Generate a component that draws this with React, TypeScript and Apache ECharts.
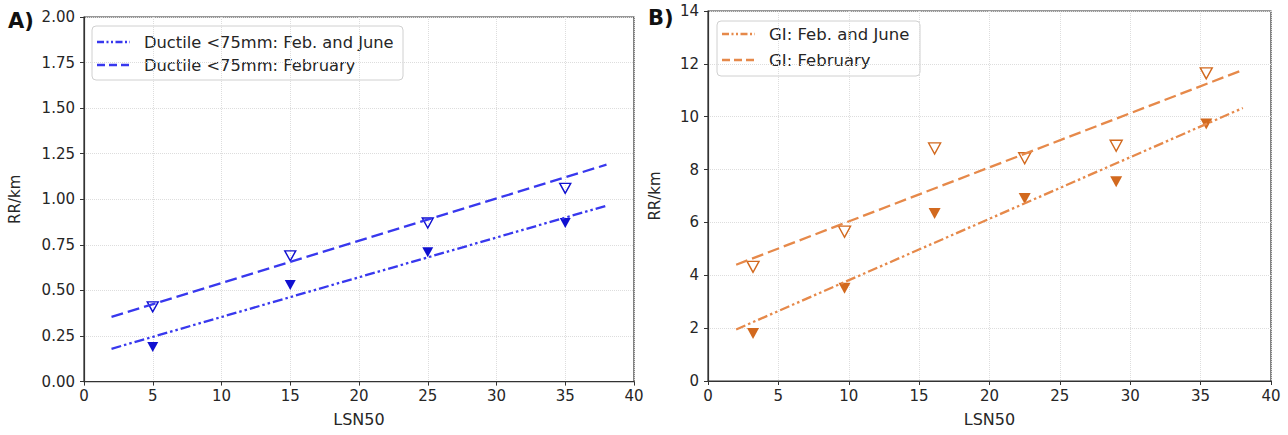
import React, { useEffect, useRef } from "react";
import * as echarts from "echarts";

// ---- Data ----
const fitX = [2, 38];

// Panel A: Ductile <75mm
const lsnA = [5, 15, 25, 35];
const ductileFebJune = [0.19, 0.53, 0.71, 0.87];
const ductileFeb = [0.41, 0.69, 0.87, 1.06];
const ductileFitFebJune = [0.18, 0.965];
const ductileFitFeb = [0.355, 1.19];

// Panel B: GI
const lsnB = [3.2, 9.7, 16.1, 22.5, 29.0, 35.4];
const giFebJune = [1.8, 3.51, 6.34, 6.91, 7.54, 9.72];
const giFeb = [4.32, 5.65, 8.8, 8.43, 8.9, 11.64];
const giFitFebJune = [1.95, 10.33];
const giFitFeb = [4.4, 11.77];

const legendA = ["Ductile <75mm: Feb. and June", "Ductile <75mm: February"];
const legendB = ["GI: Feb. and June", "GI: February"];

const BLUE_M = "#1010d0";
const BLUE_L = "#3838ee";
const ORANGE_M = "#d2691e";
const ORANGE_L = "#e6894a";
const DASH = [12, 5];
const DASHDOTDOT = [10, 3, 2.5, 3, 2.5, 3];
const FONT = "DejaVu Sans";
const TXT = "#262626";

const pairs = (xs: number[], ys: number[]) => xs.map((x, i) => [x, ys[i]]);

function axisCommon() {
  return {
    axisLine: { show: true, onZero: false, lineStyle: { color: "#333", width: 1.2 } },
    axisTick: { show: true, inside: false, length: 4, lineStyle: { color: "#333" } },
    splitLine: { show: true, lineStyle: { color: "#dddddd", type: "dotted", width: 1 } },
    axisLabel: { color: TXT, fontSize: 15, fontFamily: FONT },
    nameTextStyle: { color: TXT, fontSize: 15, fontFamily: FONT },
  };
}

function legendGroup(x: number, y: number, w: number, h: number, rowY: number[], texts: string[], color: string, fs: number) {
  const children: any[] = [
    {
      type: "rect",
      shape: { x, y, width: w, height: h, r: 4 },
      style: { fill: "rgba(255,255,255,0.85)", stroke: "#d0d0d0", lineWidth: 1 },
    },
  ];
  const dashes = [DASHDOTDOT, DASH];
  texts.forEach((t, i) => {
    children.push({
      type: "line",
      shape: { x1: x + 5, y1: rowY[i], x2: x + 38, y2: rowY[i] },
      style: { stroke: color, lineWidth: 2.3, lineDash: i === 0 ? [7, 2.5, 2, 2.5, 2, 2.5] : [8, 4] },
    });
    children.push({
      type: "text",
      x: x + 52,
      y: rowY[i],
      style: { text: t, fill: TXT, fontSize: fs, fontFamily: FONT, verticalAlign: "middle", align: "left" },
    });
  });
  return { type: "group", children };
}

export default function App() {
  const ref = useRef<HTMLDivElement>(null);
  useEffect(() => {
    if (!ref.current) return;
    const chart = echarts.init(ref.current, null, { renderer: "svg" });
    const c = axisCommon();
    const option: any = {
      animation: false,
      backgroundColor: "#fff",
      grid: [
        { left: 84, top: 17, width: 550, height: 364.6, show: true, borderColor: "#333", borderWidth: 1.2, containLabel: false },
        { left: 708, top: 11, width: 563, height: 370, show: true, borderColor: "#333", borderWidth: 1.2, containLabel: false },
      ],
      xAxis: [
        {
          ...c, type: "value", gridIndex: 0, min: 0, max: 40, interval: 5,
          name: "LSN50", nameLocation: "middle", nameGap: 30,
          nameTextStyle: { ...c.nameTextStyle, fontSize: 16 },
          axisLabel: { ...c.axisLabel, margin: 7 },
        },
        {
          ...c, type: "value", gridIndex: 1, min: 0, max: 40, interval: 5,
          name: "LSN50", nameLocation: "middle", nameGap: 30,
          nameTextStyle: { ...c.nameTextStyle, fontSize: 16 },
          axisLabel: { ...c.axisLabel, margin: 7 },
        },
      ],
      yAxis: [
        {
          ...c, type: "value", gridIndex: 0, min: 0, max: 2, interval: 0.25,
          name: "RR/km", nameLocation: "middle", nameGap: 62,
          axisLabel: { ...c.axisLabel, margin: 9, formatter: (v: number) => v.toFixed(2) },
        },
        {
          ...c, type: "value", gridIndex: 1, min: 0, max: 14, interval: 2,
          name: "RR/km", nameLocation: "middle", nameGap: 46,
          axisLabel: { ...c.axisLabel, margin: 9 },
        },
      ],
      series: [
        {
          type: "line", xAxisIndex: 0, yAxisIndex: 0, symbol: "none",
          data: pairs(fitX, ductileFitFebJune),
          lineStyle: { color: BLUE_L, width: 2.3, type: DASHDOTDOT },
        },
        {
          type: "line", xAxisIndex: 0, yAxisIndex: 0, symbol: "none",
          data: pairs(fitX, ductileFitFeb),
          lineStyle: { color: BLUE_L, width: 2.3, type: DASH },
        },
        {
          type: "scatter", xAxisIndex: 0, yAxisIndex: 0, symbol: "triangle", symbolRotate: 180,
          symbolSize: [11, 10], data: pairs(lsnA, ductileFebJune),
          itemStyle: { color: BLUE_M, opacity: 1 },
        },
        {
          type: "scatter", xAxisIndex: 0, yAxisIndex: 0, symbol: "triangle", symbolRotate: 180,
          symbolSize: [11, 10], data: pairs(lsnA, ductileFeb),
          itemStyle: { color: "rgba(255,255,255,0)", borderColor: BLUE_M, borderWidth: 1.4, opacity: 1 },
        },
        {
          type: "line", xAxisIndex: 1, yAxisIndex: 1, symbol: "none",
          data: pairs(fitX, giFitFebJune),
          lineStyle: { color: ORANGE_L, width: 2.3, type: DASHDOTDOT },
        },
        {
          type: "line", xAxisIndex: 1, yAxisIndex: 1, symbol: "none",
          data: pairs(fitX, giFitFeb),
          lineStyle: { color: ORANGE_L, width: 2.3, type: DASH },
        },
        {
          type: "scatter", xAxisIndex: 1, yAxisIndex: 1, symbol: "triangle", symbolRotate: 180,
          symbolSize: [12, 11], data: pairs(lsnB, giFebJune),
          itemStyle: { color: ORANGE_M, opacity: 1 },
        },
        {
          type: "scatter", xAxisIndex: 1, yAxisIndex: 1, symbol: "triangle", symbolRotate: 180,
          symbolSize: [12, 11], data: pairs(lsnB, giFeb),
          itemStyle: { color: "rgba(255,255,255,0)", borderColor: ORANGE_M, borderWidth: 1.4, opacity: 1 },
        },
      ],
      graphic: [
        legendGroup(92, 26, 311, 54, [42, 65], legendA, BLUE_L, 16.3),
        legendGroup(717, 21, 203, 55, [34, 60], legendB, ORANGE_L, 16.5),
        {
          type: "text", x: 8, y: 21,
          style: { text: "A)", fill: "#111", fontSize: 21, fontWeight: "bold", fontFamily: FONT, verticalAlign: "middle" },
        },
        {
          type: "text", x: 648, y: 18,
          style: { text: "B)", fill: "#111", fontSize: 21, fontWeight: "bold", fontFamily: FONT, verticalAlign: "middle" },
        },
      ],
    };
    chart.setOption(option);
    return () => chart.dispose();
  }, []);
  return <div ref={ref} style={{ position: "fixed", left: 0, top: 0, width: 1288, height: 435 }} />;
}
